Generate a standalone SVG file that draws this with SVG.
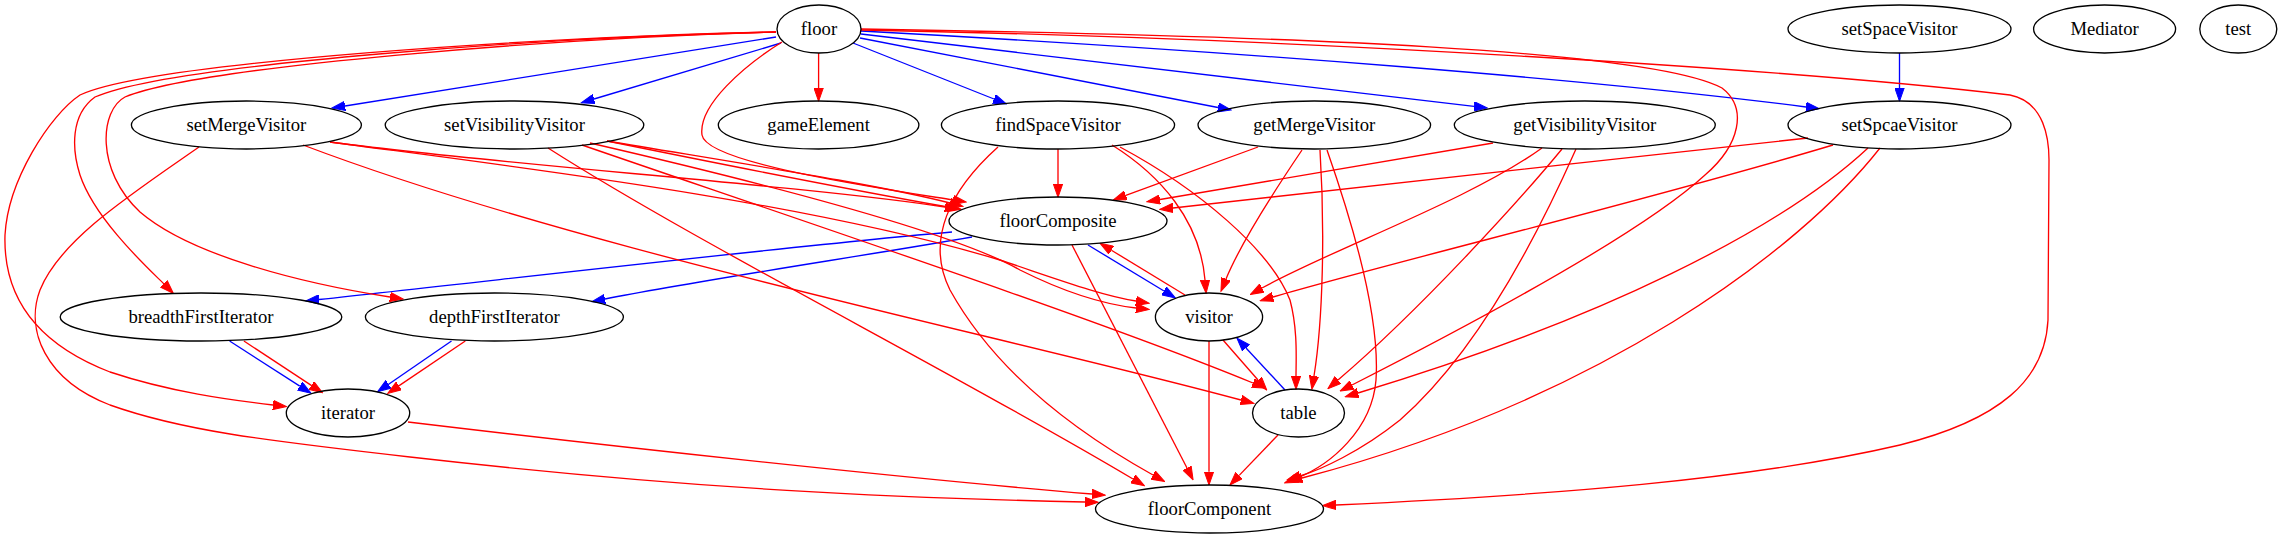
<svg xmlns="http://www.w3.org/2000/svg" width="2282" height="539" viewBox="0 0 2282 539">
<style>
.n ellipse{fill:none;stroke:#000;stroke-width:1.33}
.n text{font-family:"Liberation Serif","Times New Roman",serif;font-size:18.67px;text-anchor:middle;fill:#000}
.r{fill:none;stroke:#ff0000;stroke-width:1.33;marker-end:url(#ar)}
.b{fill:none;stroke:#0000ff;stroke-width:1.33;marker-end:url(#ab)}
</style>
<defs>
<marker id="ar" markerUnits="userSpaceOnUse" viewBox="0 -5 14 10" refX="0" refY="0" markerWidth="14" markerHeight="10" orient="auto"><path d="M0,-4.67L13.33,0L0,4.67z" fill="#ff0000" stroke="#ff0000" stroke-width="1"/></marker>
<marker id="ab" markerUnits="userSpaceOnUse" viewBox="0 -5 14 10" refX="0" refY="0" markerWidth="14" markerHeight="10" orient="auto"><path d="M0,-4.67L13.33,0L0,4.67z" fill="#0000ff" stroke="#0000ff" stroke-width="1"/></marker>
</defs>
<rect width="2282" height="539" fill="#fff"/>
<g id="edges">
<path class="b" d="M776,37L345,106"/>
<path class="b" d="M781,43L594,99"/>
<path class="b" d="M853,43L994,99"/>
<path class="b" d="M860,38L1218,107.5"/>
<path class="b" d="M861,34L1474,106.4"/>
<path class="b" d="M861,31C1250,52 1600,80 1806,107"/>
<path class="b" d="M1899.5,53L1899.5,88"/>
<path class="b" d="M952,232C800,245 500,280 319,299.5"/>
<path class="b" d="M972,237C870,255 700,280 605,299"/>
<path class="b" d="M1088,245L1164,291"/>
<path class="b" d="M1285,390L1246,348"/>
<path class="b" d="M229.6,341L299.8,386.1"/>
<path class="b" d="M451.5,341L388.6,384.2"/>
<path class="r" d="M818.6,53L818.6,88"/>
<path class="r" d="M782,42C745,65 698,105 702,135C706,162 860,185 953,200"/>
<path class="r" d="M776,32C550,36 150,62 80,95C50,115 8,180 5,235C3,300 40,345 110,372C170,392 230,400 273,405"/>
<path class="r" d="M776,32C550,37 170,64 95,97C70,115 72,150 80,175C95,220 150,270 164,284"/>
<path class="r" d="M776,32C560,38 200,66 125,97C100,110 95,170 140,212C190,255 300,283 390,297"/>
<path class="r" d="M861,29C1300,36 1650,50 1722,88C1748,108 1740,145 1705,175C1640,235 1460,330 1352,385"/>
<path class="r" d="M861,30C1300,38 1800,70 2010,95C2045,102 2049,140 2049,160L2048,320C2045,380 2000,420 1900,445C1750,480 1550,495 1336,505"/>
<path class="r" d="M330,142C500,165 800,185 945,207"/>
<path class="r" d="M330,142C500,165 800,200 1000,260C1060,280 1100,295 1136,301"/>
<path class="r" d="M303,145C580,250 1000,335 1241,400"/>
<path class="r" d="M199,147C130,195 60,240 40,290C25,330 45,380 110,405C180,430 260,440 410,457C700,490 900,498 1085,502"/>
<path class="r" d="M607,141C750,165 880,185 950,203"/>
<path class="r" d="M607,141C750,170 880,195 948,207"/>
<path class="r" d="M590,143C750,180 950,230 1020,270C1070,295 1110,305 1136,308"/>
<path class="r" d="M582,145C800,220 1100,320 1253,383"/>
<path class="r" d="M548,148C700,245 950,370 1133,479"/>
<path class="r" d="M1058,149L1058,184"/>
<path class="r" d="M1112,145C1160,175 1200,220 1205,280"/>
<path class="r" d="M1120,147C1200,190 1270,250 1290,300C1298,330 1296,360 1296,376"/>
<path class="r" d="M998,147C950,190 925,240 950,290C1000,380 1090,440 1153,475"/>
<path class="r" d="M408,422C600,445 900,478 1092,494"/>
<path class="r" d="M1072,245L1187,468"/>
<path class="r" d="M1185,295L1111.4,250.2"/>
<path class="r" d="M1223,340L1258,380"/>
<path class="r" d="M1209,341L1209,471.7"/>
<path class="r" d="M1278,435L1239.2,475.4"/>
<path class="r" d="M1258,147L1125.8,195.4"/>
<path class="r" d="M1302,150C1275,190 1240,245 1226,279"/>
<path class="r" d="M1320,150C1325,230 1323,320 1314,376"/>
<path class="r" d="M1327,150C1355,230 1380,320 1376,380C1372,430 1330,465 1297,478"/>
<path class="r" d="M1493,143L1160,199.5"/>
<path class="r" d="M1542,148C1470,200 1330,250 1262,288"/>
<path class="r" d="M1562,149C1520,200 1420,310 1338,380"/>
<path class="r" d="M1576,149C1540,230 1480,350 1400,420C1360,452 1320,470 1300,476"/>
<path class="r" d="M1808,138C1600,160 1300,195 1173,208"/>
<path class="r" d="M1833,145C1650,200 1400,260 1273,297"/>
<path class="r" d="M1868,148C1780,230 1600,320 1358,393"/>
<path class="r" d="M1880,148C1800,250 1600,400 1302,478"/>
<path class="r" d="M243.9,341L311.3,385.4"/>
<path class="r" d="M465.3,341L398.8,385.9"/>
</g>
<g id="floor" class="n"><ellipse cx="819" cy="29" rx="42" ry="24"/><text x="819" y="34.6">floor</text></g>
<g id="setSpaceVisitor" class="n"><ellipse cx="1899.5" cy="29" rx="111.5" ry="24"/><text x="1899.5" y="34.6">setSpaceVisitor</text></g>
<g id="Mediator" class="n"><ellipse cx="2104.6" cy="29" rx="71" ry="24"/><text x="2104.6" y="34.6">Mediator</text></g>
<g id="test" class="n"><ellipse cx="2238.3" cy="29" rx="38.5" ry="24"/><text x="2238.3" y="34.6">test</text></g>
<g id="setMergeVisitor" class="n"><ellipse cx="246.4" cy="125" rx="115" ry="24"/><text x="246.4" y="130.6">setMergeVisitor</text></g>
<g id="setVisibilityVisitor" class="n"><ellipse cx="514.5" cy="125" rx="129.3" ry="24"/><text x="514.5" y="130.6">setVisibilityVisitor</text></g>
<g id="gameElement" class="n"><ellipse cx="818.6" cy="125" rx="100.3" ry="24"/><text x="818.6" y="130.6">gameElement</text></g>
<g id="findSpaceVisitor" class="n"><ellipse cx="1058" cy="125" rx="116.6" ry="24"/><text x="1058" y="130.6">findSpaceVisitor</text></g>
<g id="getMergeVisitor" class="n"><ellipse cx="1314.3" cy="125" rx="116.3" ry="24"/><text x="1314.3" y="130.6">getMergeVisitor</text></g>
<g id="getVisibilityVisitor" class="n"><ellipse cx="1584.8" cy="125" rx="130.5" ry="24"/><text x="1584.8" y="130.6">getVisibilityVisitor</text></g>
<g id="setSpcaeVisitor" class="n"><ellipse cx="1899.5" cy="125" rx="111.5" ry="24"/><text x="1899.5" y="130.6">setSpcaeVisitor</text></g>
<g id="floorComposite" class="n"><ellipse cx="1058" cy="221" rx="109" ry="24"/><text x="1058" y="226.6">floorComposite</text></g>
<g id="breadthFirstIterator" class="n"><ellipse cx="201" cy="317" rx="140.8" ry="24"/><text x="201" y="322.6">breadthFirstIterator</text></g>
<g id="depthFirstIterator" class="n"><ellipse cx="494.4" cy="317" rx="129" ry="24"/><text x="494.4" y="322.6">depthFirstIterator</text></g>
<g id="visitor" class="n"><ellipse cx="1209" cy="317" rx="53.6" ry="24"/><text x="1209" y="322.6">visitor</text></g>
<g id="iterator" class="n"><ellipse cx="348" cy="413" rx="61.7" ry="24"/><text x="348" y="418.6">iterator</text></g>
<g id="table" class="n"><ellipse cx="1298.5" cy="413" rx="46" ry="24"/><text x="1298.5" y="418.6">table</text></g>
<g id="floorComponent" class="n"><ellipse cx="1209.5" cy="509" rx="114" ry="24"/><text x="1209.5" y="514.6">floorComponent</text></g>
</svg>
